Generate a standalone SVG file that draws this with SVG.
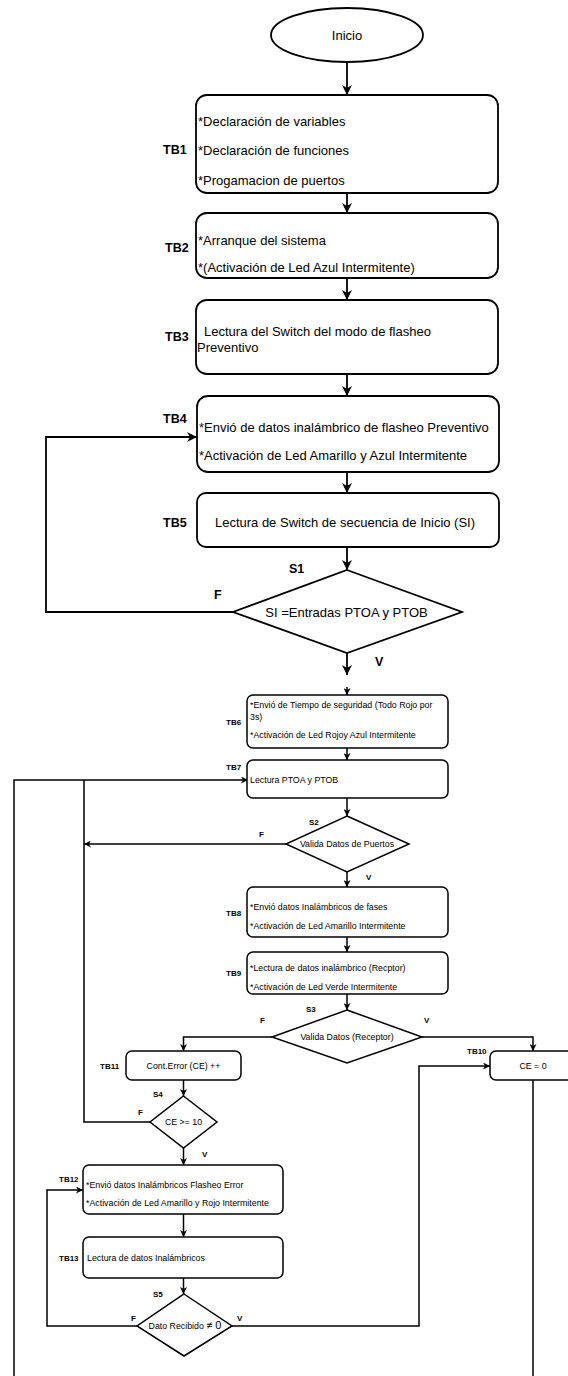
<svg xmlns="http://www.w3.org/2000/svg" width="568" height="1376" viewBox="0 0 568 1376">
<style>
.bx{fill:#fff;stroke:#000;stroke-width:1.8}
.bs{fill:#fff;stroke:#000;stroke-width:1.5}
.t{font-family:"Liberation Sans",Arial,sans-serif;font-size:13px;fill:#000}
.s{font-family:"Liberation Sans",Arial,sans-serif;font-size:8.8px;fill:#000}
.lb{font-family:"Liberation Sans",Arial,sans-serif;font-size:12.5px;font-weight:bold;fill:#000}
.ls{font-family:"Liberation Sans",Arial,sans-serif;font-size:8px;font-weight:bold;fill:#000}
.c{fill:none;stroke:#000;stroke-width:1.8}
.cs{fill:none;stroke:#000;stroke-width:1.5}
</style>
<defs>
<marker id="a" viewBox="0 0 10 10" refX="10" refY="5" markerWidth="10" markerHeight="10" markerUnits="userSpaceOnUse" orient="auto"><path d="M0,0 L10,5 L0,10 L3,5 z" fill="#000"/></marker>
<marker id="b" viewBox="0 0 10 10" refX="10" refY="5" markerWidth="7" markerHeight="7" markerUnits="userSpaceOnUse" orient="auto"><path d="M0,0 L10,5 L0,10 L3,5 z" fill="#000"/></marker>
</defs>
<rect width="568" height="1376" fill="#fff"/>
<g id="connectors">
<path class="c" d="M347,62 V95" marker-end="url(#a)"/>
<path class="c" d="M347,193 V213" marker-end="url(#a)"/>
<path class="c" d="M347,278 V300" marker-end="url(#a)"/>
<path class="c" d="M347,374 V396" marker-end="url(#a)"/>
<path class="c" d="M347,472 V493" marker-end="url(#a)"/>
<path class="c" d="M347,547 V570" marker-end="url(#a)"/>
<path class="c" d="M233,612 H46 V437 H197" marker-end="url(#a)"/>
<path class="c" d="M347,653 V675" marker-end="url(#a)"/>
<path class="cs" d="M347,687 V695" marker-end="url(#b)"/>
<path class="cs" d="M347,748 V760" marker-end="url(#b)"/>
<path class="cs" d="M14,1376 V780 H248" marker-end="url(#b)"/>
<path class="cs" d="M347,798 V816" marker-end="url(#b)"/>
<path class="cs" d="M286,844 H84" marker-end="url(#b)"/>
<path class="cs" d="M347,872 V887" marker-end="url(#b)"/>
<path class="cs" d="M347,937 V952" marker-end="url(#b)"/>
<path class="cs" d="M347,994 V1010" marker-end="url(#b)"/>
<path class="cs" d="M272,1037 H183.5 V1051" marker-end="url(#b)"/>
<path class="cs" d="M422,1037 H533 V1051" marker-end="url(#b)"/>
<path class="cs" d="M183.5,1080 V1096" marker-end="url(#b)"/>
<path class="cs" d="M150,1122 H84 V780"/>
<path class="cs" d="M183.5,1148 V1165" marker-end="url(#b)"/>
<path class="cs" d="M183.5,1214 V1237" marker-end="url(#b)"/>
<path class="cs" d="M183.5,1278 V1294" marker-end="url(#b)"/>
<path class="cs" d="M137,1326 H47 V1190 H83" marker-end="url(#b)"/>
<path class="cs" d="M232,1326 H419 V1066 H490" marker-end="url(#b)"/>
<path class="cs" d="M533,1080 V1376"/>
</g>
<g id="inicio">
<ellipse class="bx" cx="347" cy="35" rx="76" ry="27"/>
<text class="t" x="347" y="39.5" text-anchor="middle">Inicio</text>
</g>
<g id="tb1">
<rect class="bx" x="196" y="95" width="302" height="98" rx="11"/>
<text class="lb" x="163" y="154">TB1</text>
<text class="t" x="198" y="125.5">*Declaración de variables</text>
<text class="t" x="198" y="154.5">*Declaración de funciones</text>
<text class="t" x="198" y="184.5">*Progamacion de puertos</text>
</g>
<g id="tb2">
<rect class="bx" x="196" y="213" width="302" height="65" rx="11"/>
<text class="lb" x="165" y="252">TB2</text>
<text class="t" x="198" y="244.5">*Arranque del sistema</text>
<text class="t" x="198" y="271.5">*(Activación de Led Azul Intermitente)</text>
</g>
<g id="tb3">
<rect class="bx" x="196" y="300" width="302" height="74" rx="11"/>
<text class="lb" x="165" y="341">TB3</text>
<text class="t" x="204" y="335.5">Lectura del Switch del modo de flasheo</text>
<text class="t" x="197" y="351.5">Preventivo</text>
</g>
<g id="tb4">
<rect class="bx" x="197" y="396" width="302" height="76" rx="11"/>
<text class="lb" x="163" y="423">TB4</text>
<text class="t" x="199" y="431.5">*Envió de datos inalámbrico de flasheo Preventivo</text>
<text class="t" x="199" y="459.5">*Activación de Led Amarillo y Azul Intermitente</text>
</g>
<g id="tb5">
<rect class="bx" x="197" y="493" width="302" height="54" rx="9"/>
<text class="lb" x="163" y="526.5">TB5</text>
<text class="t" x="345" y="526.5" text-anchor="middle">Lectura de Switch de secuencia de Inicio (SI)</text>
</g>
<g id="s1">
<polygon class="bx" points="347,570 462,612 347,653 233,612"/>
<text class="lb" x="289" y="573">S1</text>
<text class="lb" x="214" y="599">F</text>
<text class="lb" x="375" y="666">V</text>
<text class="t" x="346.5" y="616.5" text-anchor="middle">SI =Entradas PTOA y PTOB</text>
</g>
<g id="tb6">
<rect class="bs" x="247" y="695" width="201" height="53" rx="6"/>
<text class="ls" x="226" y="725">TB6</text>
<text class="s" x="250" y="708">*Envió de Tiempo de seguridad (Todo Rojo por</text>
<text class="s" x="250" y="720">3s)</text>
<text class="s" x="250" y="738">*Activación de Led Rojoy Azul Intermitente</text>
</g>
<g id="tb7">
<rect class="bs" x="247" y="760" width="201" height="38" rx="6"/>
<text class="ls" x="226" y="770">TB7</text>
<text class="s" x="250" y="783">Lectura PTOA y PTOB</text>
</g>
<g id="s2">
<polygon class="bs" points="347,816 409,844 347,872 286,844"/>
<text class="ls" x="309" y="825">S2</text>
<text class="ls" x="259" y="837">F</text>
<text class="ls" x="366" y="880">V</text>
<text class="s" x="347" y="847" text-anchor="middle">Valida Datos de Puertos</text>
</g>
<g id="tb8">
<rect class="bs" x="247" y="887" width="201" height="50" rx="6"/>
<text class="ls" x="226" y="916">TB8</text>
<text class="s" x="250" y="910">*Envió datos Inalámbricos de fases</text>
<text class="s" x="250" y="929">*Activación de Led Amarillo Intermitente</text>
</g>
<g id="tb9">
<rect class="bs" x="247" y="952" width="201" height="42" rx="6"/>
<text class="ls" x="226" y="976">TB9</text>
<text class="s" x="250" y="971">*Lectura de datos inalámbrico (Recptor)</text>
<text class="s" x="250" y="990">*Activación de Led Verde Intermitente</text>
</g>
<g id="s3">
<polygon class="bs" points="347,1010 422,1037 347,1063 272,1037"/>
<text class="ls" x="306" y="1012">S3</text>
<text class="ls" x="260" y="1023">F</text>
<text class="ls" x="424" y="1023">V</text>
<text class="s" x="347" y="1040" text-anchor="middle">Valida Datos (Receptor)</text>
</g>
<g id="tb10">
<rect class="bs" x="490" y="1051" width="86" height="29" rx="6"/>
<text class="ls" x="467" y="1054">TB10</text>
<text class="s" x="533" y="1069" text-anchor="middle">CE = 0</text>
</g>
<g id="tb11">
<rect class="bs" x="126" y="1051" width="115" height="29" rx="6"/>
<text class="ls" x="100" y="1069">TB11</text>
<text class="s" x="183.5" y="1069" text-anchor="middle">Cont.Error (CE) ++</text>
</g>
<g id="s4">
<polygon class="bs" points="183.5,1096 217,1122 183.5,1148 150,1122"/>
<text class="ls" x="153" y="1097">S4</text>
<text class="ls" x="138" y="1115">F</text>
<text class="ls" x="202" y="1157">V</text>
<text class="s" x="183.5" y="1125" text-anchor="middle">CE &gt;= 10</text>
</g>
<g id="tb12">
<rect class="bs" x="83" y="1165" width="200" height="49" rx="6"/>
<text class="ls" x="59" y="1182">TB12</text>
<text class="s" x="86" y="1188">*Envió datos Inalámbricos Flasheo Error</text>
<text class="s" x="86" y="1206">*Activación de Led Amarillo y Rojo Intermitente</text>
</g>
<g id="tb13">
<rect class="bs" x="83" y="1237" width="200" height="41" rx="6"/>
<text class="ls" x="59" y="1261">TB13</text>
<text class="s" x="87" y="1261">Lectura de datos Inalámbricos</text>
</g>
<g id="s5">
<polygon class="bs" points="184,1294 232,1326 184,1356 137,1326"/>
<text class="ls" x="153" y="1297">S5</text>
<text class="ls" x="131" y="1321">F</text>
<text class="ls" x="237" y="1321">V</text>
<text class="s" x="185" y="1329" text-anchor="middle">Dato Recibido <tspan font-size="11">≠ 0</tspan></text>
</g>
</svg>
